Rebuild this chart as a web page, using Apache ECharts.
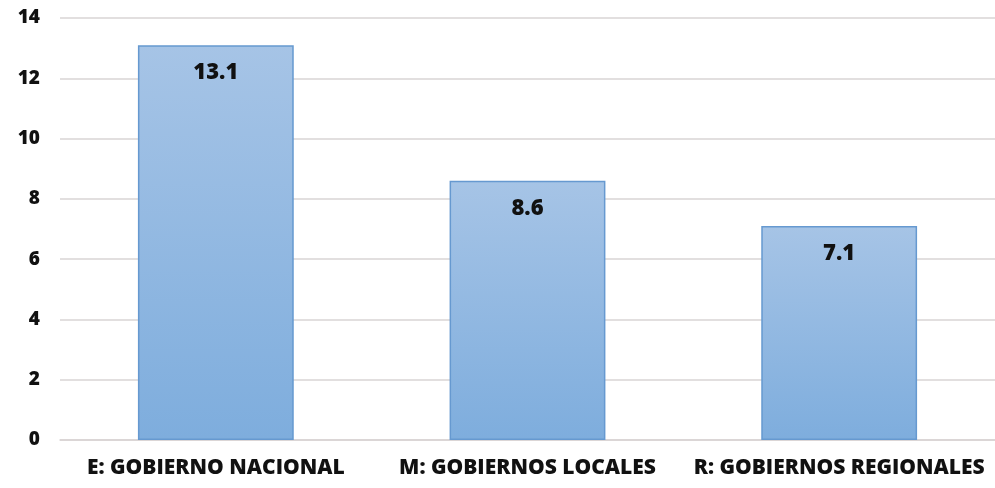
<!DOCTYPE html>
<html><head><meta charset="utf-8">
<script src="https://cdn.jsdelivr.net/npm/echarts@6/dist/echarts.min.js"></script>
<style>html,body{margin:0;padding:0;background:#fff}#c{width:995px;height:488px}</style>
</head><body><div id="c"></div>
<script>
const categories = ["E: GOBIERNO NACIONAL", "M: GOBIERNOS LOCALES", "R: GOBIERNOS REGIONALES"];
const values = [13.1, 8.6, 7.1];
const yTicks = [0, 2, 4, 6, 8, 10, 12, 14];

const F = '"Open Sans", sans-serif';
const chart = echarts.init(document.getElementById('c'));
chart.setOption({
  animation: false,
  grid: { left: 60, right: 0, top: 18, bottom: 48 },
  xAxis: {
    type: 'category', data: categories,
    axisLine: { show: true, lineStyle: { color: '#d9d4d4', width: 1.5 } },
    axisTick: { show: false },
    axisLabel: { interval: 0, color: '#111', fontFamily: F, fontWeight: 800, fontSize: 21, margin: 18 }
  },
  yAxis: {
    type: 'value', min: yTicks[0], max: yTicks[yTicks.length - 1], interval: 2,
    axisLine: { show: false }, axisTick: { show: false },
    splitLine: { lineStyle: { color: '#d9d4d4', width: 1.5 } },
    axisLabel: { color: '#111', fontFamily: F, fontWeight: 800, fontSize: 19, margin: 20 }
  },
  series: [{
    type: 'bar', data: values, barWidth: '50%',
    itemStyle: {
      color: new echarts.graphic.LinearGradient(0, 0, 0, 1, [
        { offset: 0, color: '#a6c4e6' }, { offset: 1, color: '#7eaddd' }
      ]),
      borderColor: '#6699d0', borderWidth: 1.5
    },
    label: {
      show: true, position: 'insideTop', distance: 17, formatter: p => p.value.toFixed(1),
      color: '#111', fontFamily: F, fontWeight: 800, fontSize: 22
    }
  }]
});
</script></body></html>
